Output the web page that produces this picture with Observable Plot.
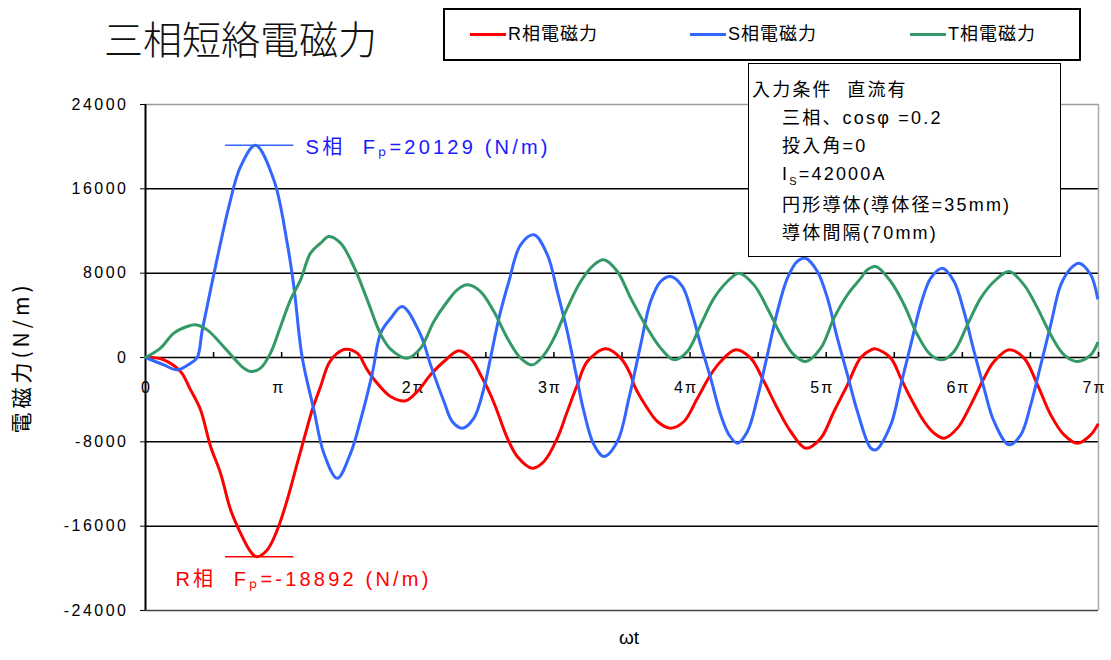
<!DOCTYPE html>
<html>
<head>
<meta charset="utf-8">
<script src="https://cdn.jsdelivr.net/npm/d3@7"></script>
<script src="https://cdn.jsdelivr.net/npm/@observablehq/plot@0.6"></script>
<style>
  html, body { margin: 0; padding: 0; background: #fff; }
  #wrap { position: relative; width: 1111px; height: 660px; overflow: hidden; font-family: "Liberation Sans", "Noto Sans CJK JP", sans-serif; }
  #wrap svg { position: absolute; left: 0; top: 0; }
  g[aria-label="y-axis tick label"] text { letter-spacing: 2.5px; }
  #title { position: absolute; left: 104px; top: 15px; font-size: 39px; font-family: "Noto Sans CJK JP", sans-serif; font-weight: 300; color: #111; white-space: nowrap; line-height: 44px; }
  #legend { position: absolute; left: 443px; top: 8px; width: 634px; height: 49px; border: 2px solid #000; background: #fff; font-family: "Liberation Sans", "Noto Sans CJK JP", sans-serif; font-size: 18px; letter-spacing: 1px; }
  .li { position: absolute; top: 12px; height: 24px; line-height: 24px; white-space: nowrap; }
  .li span.sw { display: inline-block; width: 36px; height: 3px; vertical-align: middle; margin-right: 2px; position: relative; top: -1px; }
  #cond { position: absolute; left: 748px; top: 63px; width: 311px; height: 192px; border: 1.5px solid #000; background: #fff; font-family: "Liberation Sans", "Noto Sans CJK JP", sans-serif; font-size: 18px; letter-spacing: 2.2px; color: #000; }
  #cond div { position: absolute; white-space: nowrap; line-height: 24px; }
</style>
</head>
<body>
<div id="wrap">
  <div id="title">三相短絡電磁力</div>
  <div id="legend"></div>
  <div id="cond"></div>
</div>
<script>
// ---- data (x in units of π, force in N/m) ----
const seriesNames = ["R相電磁力", "S相電磁力", "T相電磁力"];
const seriesColors = ["#ff0000", "#3366ff", "#339966"];

const rPhase = [
  [0,0],[0.037,0],[0.134,-220],[0.257,-1330],[0.331,-3070],[0.404,-4960],[0.478,-8440],[0.551,-10970],
  [0.625,-14450],[0.698,-16660],[0.771,-18400],[0.815,-18892],[0.894,-18250],[0.968,-16350],[1.041,-13500],
  [1.115,-10020],[1.176,-7180],[1.225,-4960],[1.286,-2750],[1.347,-540],[1.409,410],[1.470,790],[1.555,410],
  [1.629,-1170],[1.702,-2440],[1.80,-3700],[1.910,-4110],[1.996,-3230],[2.094,-1640],[2.192,-380],[2.302,630],
  [2.388,-60],[2.461,-1640],[2.535,-3540],[2.584,-5120],[2.658,-7650],[2.731,-9390],[2.841,-10500],[2.927,-9870],
  [3.025,-7650],[3.098,-5120],[3.172,-2590],[3.245,-380],[3.380,820],[3.490,-60],[3.564,-1640],[3.588,-2590],
  [3.686,-4810],[3.760,-6070],[3.857,-6700],[3.955,-6070],[4.054,-3860],[4.151,-1640],[4.225,-380],[4.335,730],
  [4.445,-60],[4.543,-2280],[4.641,-4810],[4.739,-7020],[4.849,-8600],[4.960,-7650],[5.057,-5120],[5.156,-2590],
  [5.254,0],[5.33,730],[5.364,820],[5.474,-60],[5.548,-1960],[5.621,-3860],[5.719,-6070],[5.792,-7180],
  [5.866,-7650],[5.964,-6700],[6.062,-4490],[6.159,-1960],[6.233,-380],[6.343,730],[6.453,-60],[6.552,-2590],
  [6.649,-5440],[6.747,-7340],[6.846,-8130],[6.943,-7340],[6.993,-6390]
];

const sPhase = [
  [0,0],[0.134,-700],[0.233,-1170],[0.331,-540],[0.38,0],[0.417,2600],[0.502,7900],[0.612,14300],[0.698,18100],
  [0.808,20129],[0.943,16840],[1.041,10830],[1.09,6700],[1.151,0],[1.237,-4980],[1.31,-9090],[1.408,-11460],
  [1.506,-9090],[1.58,-5930],[1.666,-1500],[1.727,2300],[1.80,3700],[1.886,4840],[2.021,2150],[2.094,-700],
  [2.192,-4170],[2.253,-6070],[2.327,-6700],[2.412,-5750],[2.486,-2910],[2.535,0],[2.596,3730],[2.669,7210],
  [2.755,10690],[2.853,11640],[2.952,9740],[3.025,6260],[3.098,2470],[3.159,-1330],[3.22,-5120],[3.294,-8280],
  [3.367,-9390],[3.466,-7970],[3.551,-3860],[3.637,1200],[3.71,5310],[3.784,7210],[3.857,7680],[3.943,6740],
  [4.017,4050],[4.078,1200],[4.151,-1960],[4.225,-5440],[4.286,-7340],[4.348,-8130],[4.421,-7020],[4.494,-3860],
  [4.568,250],[4.641,4360],[4.715,7530],[4.788,9110],[4.849,9420],[4.935,8160],[5.009,5630],[5.082,1830],
  [5.156,-1640],[5.229,-5120],[5.327,-8600],[5.364,-8760],[5.474,-6390],[5.548,-2590],[5.621,1200],[5.694,5000],
  [5.768,7530],[5.854,8470],[5.939,7210],[6.012,4360],[6.086,570],[6.159,-2910],[6.233,-6070],[6.343,-8280],
  [6.429,-7340],[6.502,-4490],[6.576,-700],[6.649,3100],[6.723,6890],[6.797,8470],[6.857,8950],[6.943,7840],
  [6.993,5630]
];

const tPhase = [
  [0,0],[0.110,890],[0.208,2310],[0.306,2940],[0.367,3100],[0.453,2620],[0.551,1360],[0.649,-60],[0.722,-1010],
  [0.771,-1330],[0.845,-1010],[0.918,410],[0.992,2940],[1.065,5470],[1.139,7370],[1.212,9900],[1.286,10850],
  [1.347,11480],[1.433,10850],[1.530,8630],[1.629,5470],[1.727,2200],[1.80,800],[1.923,-60],[2.021,890],
  [2.118,3420],[2.217,5310],[2.290,6420],[2.364,6890],[2.461,6260],[2.559,4360],[2.658,1830],[2.755,-60],
  [2.841,-700],[2.927,250],[3.000,1830],[3.098,4680],[3.196,7210],[3.294,8790],[3.367,9270],[3.466,8160],
  [3.564,5630],[3.686,2780],[3.784,890],[3.882,-220],[3.980,570],[4.078,3100],[4.176,5630],[4.274,7210],
  [4.359,8000],[4.469,6890],[4.568,4680],[4.666,2150],[4.763,250],[4.849,-380],[4.960,890],[5.057,3730],
  [5.156,5950],[5.254,7530],[5.30,8300],[5.364,8630],[5.474,7210],[5.572,5000],[5.670,2150],[5.768,250],
  [5.854,-220],[5.939,570],[6.037,3100],[6.135,5630],[6.233,7210],[6.343,8160],[6.453,6890],[6.552,4680],
  [6.649,2150],[6.747,250],[6.846,-380],[6.943,250],[6.993,1360]
];

const yTicks = [-24000, -16000, -8000, 0, 8000, 16000, 24000];
const xMinorTicks = [0.5, 1, 1.5, 2, 2.5, 3, 3.5, 4, 4.5, 5, 5.5, 6, 6.5, 7];
const xLabelVals = [1, 2, 3, 4, 5, 6, 7];
const xLabelText = ["π", "2π", "3π", "4π", "5π", "6π", "7π"];

// peak annotations
const peaks = [
  {y: 20129, x1: 0.588, x2: 1.09, color: "#3366ff"},
  {y: -18892, x1: 0.588, x2: 1.09, color: "#ff0000"}
];
const peakLabels = [
  {x: 1.176, y: 19870, text: "S相  Fₚ=20129 (N/m)", color: "#1a1aff"},
  {x: 0.22, y: -21100, text: "R相  Fₚ=-18892 (N/m)", color: "#ff0000"}
];

const conditionLines = [
  "入力条件&nbsp;&nbsp;直流有",
  "三相、cosφ =0.2",
  "投入角=0",
  "I<sub style='font-size:11px'>S</sub>=42000A",
  "円形導体(導体径=35mm)",
  "導体間隔(70mm)"
];

// ---- plot ----
const line = (data, color) => Plot.line(data, {x: d => d[0], y: d => d[1], stroke: color, strokeWidth: 3, curve: "catmull-rom"});

const chart = Plot.plot({
  width: 1111,
  height: 660,
  marginLeft: 145,
  marginRight: 13,
  marginTop: 104,
  marginBottom: 50,
  x: {domain: [0, 7], axis: null},
  y: {domain: [-24000, 24000], axis: null},
  style: {fontFamily: "'Liberation Sans', 'Noto Sans CJK JP', sans-serif", fontSize: "16px", background: "transparent", color: "#000"},
  marks: [
    Plot.ruleY(yTicks.filter(d => d > -24000 && d < 24000), {stroke: "#000", strokeWidth: 1.5}),
    Plot.ruleY([24000], {stroke: "#9a9a9a", strokeWidth: 1.5}),
    Plot.ruleY([-24000], {stroke: "#444", strokeWidth: 1.5}),
    Plot.ruleX([7], {stroke: "#aaa", strokeWidth: 1.5}),
    Plot.ruleX([0], {stroke: "#000", strokeWidth: 2}),
    Plot.ruleX(xMinorTicks, {x: d => d, y1: 0, y2: 480, stroke: "#000", strokeWidth: 1.5}),
    Plot.axisY({ticks: yTicks, label: null, tickSize: 5, tickPadding: 12, tickFormat: d => String(d), fontSize: 16, stroke: "#000"}),
    Plot.text([0], {x: d => d, y: 0, text: () => "0", dy: 30, fontSize: 16}),
    Plot.text(xLabelVals, {x: d => d, y: 0, text: (d, i) => xLabelText[i], dy: 30, dx: -4, fontSize: 16}),
    Plot.text(["電磁力(N/m)"], {frameAnchor: "left", textAnchor: "middle", text: d => d, rotate: -90, dx: -123, fontSize: 21, fontFamily: "'Noto Sans CJK JP', sans-serif"}),
    Plot.text(["ωt"], {frameAnchor: "bottom", text: d => d, dx: 7, dy: 33, fontSize: 19}),
    line(rPhase, seriesColors[0]),
    line(sPhase, seriesColors[1]),
    line(tPhase, seriesColors[2]),
    Plot.ruleY(peaks, {y: "y", x1: "x1", x2: "x2", stroke: "color", strokeWidth: 1.5}),
    Plot.text(peakLabels, {x: "x", y: "y", text: "text", fill: "color", textAnchor: "start", fontSize: 20})
  ]
});
// widen lettering to match the reference glyph spacing
chart.querySelectorAll("text").forEach(t => {
  const s = t.textContent;
  if (s.includes("Fₚ")) t.style.letterSpacing = "3.2px";
  if (s === "電磁力(N/m)") t.style.letterSpacing = "4px";
  if (/^\dπ$/.test(s)) t.style.letterSpacing = "2px";
});
const wrap = document.getElementById("wrap");
wrap.insertBefore(chart, wrap.firstChild);

// legend
const legend = document.getElementById("legend");
const legendX = [25, 245, 465];
seriesNames.forEach((n, i) => {
  const d = document.createElement("div");
  d.className = "li";
  d.style.left = legendX[i] + "px";
  d.innerHTML = `<span class="sw" style="background:${seriesColors[i]}"></span>${n}`;
  legend.appendChild(d);
});

// condition box
const cond = document.getElementById("cond");
conditionLines.forEach((t, i) => {
  const d = document.createElement("div");
  d.style.left = (i === 0 ? 3 : 33) + "px";
  d.style.top = (14 + i * 28 + (i >= 4 ? 3 : 0)) + "px";
  d.innerHTML = t;
  cond.appendChild(d);
});
</script>
</body>
</html>
